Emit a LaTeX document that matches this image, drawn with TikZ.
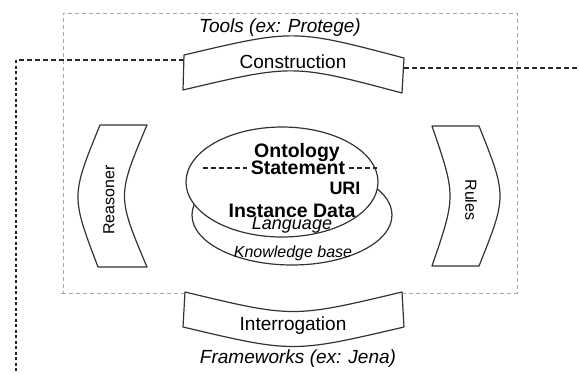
\documentclass[tikz,border=0pt]{standalone}
\usepackage{fontspec}
\setmainfont{Liberation Sans}
\usetikzlibrary{positioning}
\tikzset{
  band/.style ={draw=black!80, line width=1.2pt, fill=white, line join=round},
  frame/.style ={draw=black!35, line width=0.9pt, dash pattern=on 4pt off 3pt},
  link/.style ={draw=black!85, line width=1.1pt, dash pattern=on 5pt off 3pt},
  disc/.style ={draw=black!80, line width=1.2pt, fill=white},
  lbl/.style ={font=\fontsize{19}{22}\selectfont, anchor=base, inner sep=0pt},
  note/.style ={font=\fontsize{19}{22}\selectfont\itshape, anchor=base, inner sep=0pt},
  side/.style ={font=\fontsize{16}{18}\selectfont, inner sep=0pt},
  key/.style ={font=\fontsize{19.5}{22}\selectfont\bfseries, anchor=base, inner sep=0pt},
}

\begin{document}
\begin{tikzpicture}[x=1pt, y=-1pt]
  \useasboundingbox (0,0) rectangle (579,373);
  \draw[frame] (185,293) -- (60,293) -- (63,293) -- (63,13) -- (517,13) -- (517,293) -- (402,293);

  \coordinate (con-w) at (184,60);
  \coordinate (con-e) at (404,68);
  \coordinate (corner) at (16,60);
  \coordinate (down) at (16,373);
  \coordinate (east) at (579,68);
  \draw[link] (con-w) -- (corner);
  \draw[link, dash pattern=on 3pt off 2.5pt] (corner) -- (down);
  \draw[link] (con-e) -- (east);

  \draw[band] (184,55) .. controls (294,29) .. (404,58) -- (402,93) .. controls (293,64) .. (183,90) -- cycle;
  \draw[band] (185,292) .. controls (293,318) .. (402,292) -- (404,327) .. controls (293,353) .. (183,327) -- cycle;
  \draw[band] (100,125) -- (147,125) .. controls (117,196) .. (147,267) -- (98,267) .. controls (71,196) .. cycle;
  \draw[band] (432,126) -- (479,126) .. controls (507,196) .. (479,266) -- (432,266) .. controls (456,196) .. cycle;

  \draw[disc] (292,215) ellipse [x radius=100pt, y radius=50pt];
  \draw[disc] (282,182) ellipse [x radius=96pt, y radius=55pt];

  \node[note] (tools) at (280,32) {Tools (ex: Protege)};
  \node[lbl] (con) at (293,68) {Construction};
  \node[lbl] (int) at (293,330) {Interrogation};
  \node[note] (fw) at (298,363) {Frameworks (ex: Jena)};
  \node[side, rotate=90] (rsn) at (109,200) {Reasoner};
  \node[side, rotate=-90] (rul) at (471,200) {Rules};

  \node[key] (onto) at (297,157) {Ontology};
  \node[key, inner xsep=4pt] (stmt) at (298,174) {Statement};
  \node[key, font=\fontsize{18}{20}\selectfont\bfseries] (uri) at (345,194) {URI};
  \node[key] (inst) at (292,217) {Instance Data};
  \node[note, font=\fontsize{18}{20}\selectfont\itshape] (lang) at (292,229) {Language};
  \node[note, font=\fontsize{16}{18}\selectfont\itshape] (kb) at (293,257) {Knowledge base};

  \coordinate (rim-w) at (203,168);
  \coordinate (rim-e) at (377,168);
  \draw[link] (rim-w) -- (rim-w -| stmt.west);
  \draw[link] (stmt.east |- rim-e) -- (rim-e);
\end{tikzpicture}
\end{document}
